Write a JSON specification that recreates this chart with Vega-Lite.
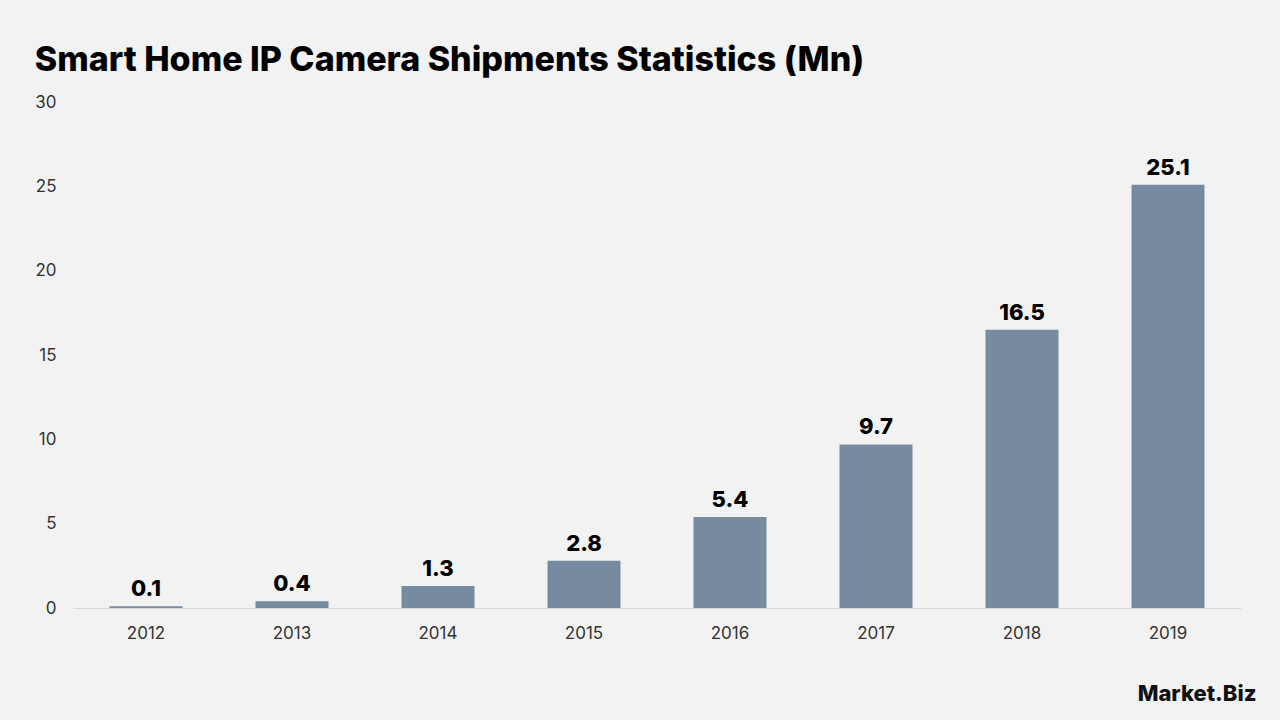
{
  "$schema": "https://vega.github.io/schema/vega-lite/v6.json",
  "width": 1168,
  "height": 506,
  "autosize": {"type": "none"},
  "padding": {"left": 73, "top": 102, "right": 39, "bottom": 112},
  "background": "#f2f2f2",
  "config": {
    "font": "Inter",
    "view": {"stroke": null},
    "axis": {"grid": false, "ticks": false, "labelFont": "Inter", "labelColor": "#333333", "labelFontSize": 17, "labelFontWeight": 400}
  },
  "title": {
    "text": "Smart Home IP Camera Shipments Statistics (Mn)",
    "anchor": "start",
    "frame": "bounds",
    "font": "Inter",
    "fontSize": 34,
    "fontWeight": 800,
    "color": "#000000",
    "offset": 15
  },
  "data": {
    "values": [
      {"year": "2012", "shipments": 0.1},
      {"year": "2013", "shipments": 0.4},
      {"year": "2014", "shipments": 1.3},
      {"year": "2015", "shipments": 2.8},
      {"year": "2016", "shipments": 5.4},
      {"year": "2017", "shipments": 9.7},
      {"year": "2018", "shipments": 16.5},
      {"year": "2019", "shipments": 25.1}
    ]
  },
  "encoding": {
    "x": {
      "field": "year",
      "type": "ordinal",
      "scale": {"paddingInner": 0.5, "paddingOuter": 0.25},
      "axis": {
        "labelAngle": 0,
        "labelPadding": 17,
        "domain": true,
        "domainColor": "#d9d9d9",
        "domainWidth": 1,
        "title": "Market.Biz",
        "titleFont": "Inter",
        "titleFontSize": 22,
        "titleFontWeight": 800,
        "titleColor": "#111111",
        "titleAnchor": "end",
        "titleAlign": "right",
        "titleBaseline": "alphabetic",
        "titleX": 1183,
        "titleY": 92
      }
    },
    "y": {
      "field": "shipments",
      "type": "quantitative",
      "scale": {"domain": [0, 30], "nice": false},
      "axis": {"title": null, "domain": false, "values": [0, 5, 10, 15, 20, 25, 30], "labelPadding": 17}
    }
  },
  "layer": [
    {"mark": {"type": "bar", "color": "#778ba0"}},
    {
      "mark": {"type": "text", "baseline": "alphabetic", "dy": -10, "fontSize": 22, "fontWeight": 800, "color": "#000000", "font": "Inter"},
      "encoding": {"text": {"field": "shipments", "type": "quantitative", "format": ".1f"}}
    }
  ]
}
